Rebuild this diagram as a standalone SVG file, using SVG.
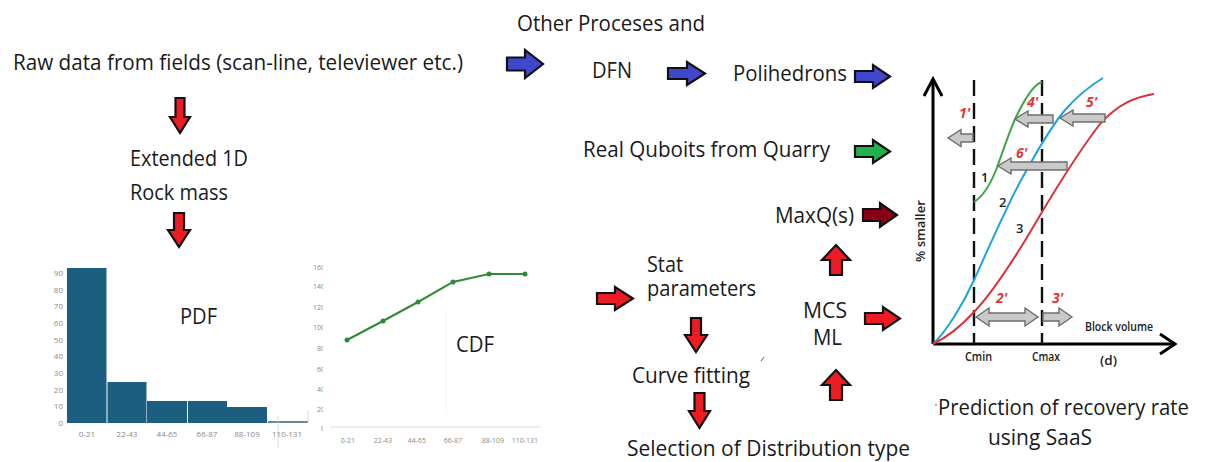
<svg xmlns="http://www.w3.org/2000/svg" width="1205" height="462" viewBox="0 0 1205 462">
  <defs>
    <style>
      .t { font-family: "Open Sans", "Noto Sans", sans-serif; font-size: 21px; fill: #1a1a1a; }
      .blk { stroke: #111; stroke-width: 2.2; stroke-linejoin: miter; }
      .red { fill: #ed1c24; }
      .blue { fill: #3f48cc; }
      .green { fill: #22b14c; }
      .dred { fill: #880015; }
      .ax { font-family: "Open Sans", "Noto Sans", sans-serif; font-size: 8px; fill: #8a8a8a; }
      .ax2 { font-family: "Open Sans", "Noto Sans", sans-serif; font-size: 7px; fill: #8a8a8a; }
      .bar { fill: #1b5e7f; }
      .gre { fill: #c9c9c9; stroke: #6d6d6d; stroke-width: 1.4; stroke-linejoin: miter; }
      .lab { font-family: "Open Sans", "Noto Sans", sans-serif; font-weight: 600; font-size: 13px; fill: #222; }
      .prm { font-family: "Open Sans", "Noto Sans", sans-serif; font-weight: 700; font-style: italic; font-size: 14px; fill: #e0353b; }
      .dash { stroke: #111; stroke-width: 2.4; stroke-dasharray: 16 7; fill: none; }
    </style>
    <clipPath id="cdfLabelClip">
      <rect x="300" y="255" width="23" height="185"/>
    </clipPath>
  </defs>

  <rect width="1205" height="462" fill="#ffffff"/>

  <!-- text nodes -->
  <g id="raw-data"><text class="t" x="13" y="70" textLength="450" lengthAdjust="spacingAndGlyphs">Raw data from fields (scan-line, televiewer etc.)</text></g>
  <g id="extended-1d">
    <text class="t" x="130" y="166" textLength="118" lengthAdjust="spacingAndGlyphs">Extended 1D</text>
    <text class="t" x="130" y="200" textLength="98" lengthAdjust="spacingAndGlyphs">Rock mass</text>
  </g>
  <g id="other-processes"><text class="t" x="517" y="31" textLength="188" lengthAdjust="spacingAndGlyphs">Other Proceses and</text></g>
  <g id="dfn"><text class="t" x="592" y="78" textLength="40" lengthAdjust="spacingAndGlyphs">DFN</text></g>
  <g id="polihedrons"><text class="t" x="733" y="81" textLength="114" lengthAdjust="spacingAndGlyphs">Polihedrons</text></g>
  <g id="real-quboits"><text class="t" x="583" y="157" textLength="247" lengthAdjust="spacingAndGlyphs">Real Quboits from Quarry</text></g>
  <g id="maxq"><text class="t" x="775" y="223" textLength="79" lengthAdjust="spacingAndGlyphs">MaxQ(s)</text></g>
  <g id="stat-parameters">
    <text class="t" x="647" y="272" textLength="36" lengthAdjust="spacingAndGlyphs">Stat</text>
    <text class="t" x="647" y="296" textLength="109" lengthAdjust="spacingAndGlyphs">parameters</text>
  </g>
  <g id="mcs-ml">
    <text class="t" x="803" y="318" textLength="44" lengthAdjust="spacingAndGlyphs">MCS</text>
    <text class="t" x="813" y="345" textLength="29" lengthAdjust="spacingAndGlyphs">ML</text>
  </g>
  <g id="curve-fitting">
    <text class="t" x="632" y="383" textLength="118" lengthAdjust="spacingAndGlyphs">Curve fitting</text>
    <path d="M761,361 L764,357" stroke="#555" stroke-width="1"/>
  </g>
  <g id="selection"><text class="t" x="627" y="456" textLength="283" lengthAdjust="spacingAndGlyphs">Selection of Distribution type</text></g>
  <g id="prediction">
    <circle cx="936" cy="405" r="0.9" fill="#888"/>
    <text class="t" x="938" y="415" textLength="251" lengthAdjust="spacingAndGlyphs">Prediction of recovery rate</text>
    <text class="t" x="988" y="445" textLength="104" lengthAdjust="spacingAndGlyphs">using SaaS</text>
  </g>

  <!-- PDF histogram -->
  <g id="pdf-chart">
    <g class="ax" text-anchor="end">
      <text x="63" y="426">0</text>
      <text x="63" y="409">10</text>
      <text x="63" y="393">20</text>
      <text x="63" y="376">30</text>
      <text x="63" y="359">40</text>
      <text x="63" y="343">50</text>
      <text x="63" y="326">60</text>
      <text x="63" y="309">70</text>
      <text x="63" y="293">80</text>
      <text x="63" y="276">90</text>
    </g>
    <rect class="bar" x="67" y="268" width="39.5" height="155"/>
    <rect class="bar" x="107.5" y="382" width="39" height="41"/>
    <rect class="bar" x="147" y="401" width="40" height="22"/>
    <rect class="bar" x="188" y="401" width="39" height="22"/>
    <rect class="bar" x="227" y="407" width="40" height="16"/>
    <rect x="268" y="421" width="40" height="2" fill="#5f8aa3"/>
    <line x1="308" y1="410" x2="308" y2="423" stroke="#cfcfcf" stroke-width="0.8"/>
    <line x1="278" y1="416" x2="278" y2="448" stroke="#cfcfcf" stroke-width="0.8"/>
    <g class="ax" text-anchor="middle">
      <text x="87" y="437">0-21</text>
      <text x="127" y="437">22-43</text>
      <text x="167" y="437">44-65</text>
      <text x="207" y="437">66-87</text>
      <text x="247" y="437">88-109</text>
      <text x="287" y="437">110-131</text>
    </g>
    <text class="t" x="180" y="324" textLength="37" lengthAdjust="spacingAndGlyphs">PDF</text>
  </g>

  <!-- CDF line chart -->
  <g id="cdf-chart">
    <g class="ax2" text-anchor="end" clip-path="url(#cdfLabelClip)">
      <text x="325" y="270">160</text>
      <text x="325" y="289">140</text>
      <text x="325" y="310">120</text>
      <text x="325" y="330">100</text>
      <text x="325" y="351">80</text>
      <text x="325" y="372">60</text>
      <text x="325" y="392">40</text>
      <text x="325" y="412">20</text>
      <text x="325" y="431">0</text>
    </g>
    <line x1="330" y1="427" x2="540" y2="427" stroke="#dcdcdc" stroke-width="1"/>
    <line x1="446" y1="310" x2="446" y2="413" stroke="#f3f3f3" stroke-width="1"/>
    <polyline points="347,340 383,321 418,302 453,282 489,274 525,274" fill="none" stroke="#2f8a36" stroke-width="2"/>
    <g fill="#2f8a36">
      <circle cx="347" cy="340" r="2.5"/>
      <circle cx="383" cy="321" r="2.5"/>
      <circle cx="418" cy="302" r="2.5"/>
      <circle cx="453" cy="282" r="2.5"/>
      <circle cx="489" cy="274" r="2.5"/>
      <circle cx="525" cy="274" r="2.5"/>
    </g>
    <g class="ax2" text-anchor="middle">
      <text x="348" y="443">0-21</text>
      <text x="383" y="443">22-43</text>
      <text x="417" y="443">44-65</text>
      <text x="453" y="443">66-87</text>
      <text x="493" y="443">88-109</text>
      <text x="525" y="443">110-131</text>
    </g>
    <text class="t" x="456" y="352" textLength="38" lengthAdjust="spacingAndGlyphs">CDF</text>
  </g>

  <!-- block-volume prediction chart -->
  <g id="recovery-chart">
    <!-- axes -->
    <path d="M933,344 V79" stroke="#000" stroke-width="3" fill="none"/>
    <path d="M924,96 L933,79 L942,96" stroke="#000" stroke-width="3" fill="none" stroke-linejoin="miter"/>
    <path d="M933,344 H1174" stroke="#000" stroke-width="3" fill="none"/>
    <path d="M1160,334 L1175,344 L1160,354" stroke="#000" stroke-width="3" fill="none"/>
    <!-- Cmin / Cmax limits -->
    <line class="dash" x1="974" y1="80" x2="974" y2="344"/>
    <line class="dash" x1="1042" y1="80" x2="1042" y2="344"/>
    <!-- gradation curves -->
    <path d="M974,202 C982,197 990,185 996,170 C1003,152 1010,128 1018,113 C1026,97 1034,84 1042,82" fill="none" stroke="#3aa64a" stroke-width="2"/>
    <path d="M933,344 C945,333 963,305 974,280 C990,245 1005,210 1020,182 C1035,155 1050,128 1065,110 C1080,93 1093,84 1103,78" fill="none" stroke="#1fa3dd" stroke-width="2"/>
    <path d="M933,344 C948,337 962,325 974,312 C995,290 1020,250 1042,212 C1060,182 1080,150 1100,124 C1118,104 1135,97 1154,94" fill="none" stroke="#d9303a" stroke-width="2"/>
    <!-- shift arrows -->
    <path class="gre" d="M973,134 H961 V129.5 L948,138 L961,146.5 V142 H973 Z"/>
    <path class="gre" d="M1053,115 H1028 V111 L1015,119 L1028,127 V123 H1053 Z"/>
    <path class="gre" d="M1105,114 H1073 V110 L1060,118 L1073,126 V122 H1105 Z"/>
    <path class="gre" d="M1067,162 H1011 V158 L998,166 L1011,174 V170 H1067 Z"/>
    <path class="gre" d="M976,317 L989,308 V313 H1025 V308 L1038,317 L1025,326 V321 H989 V326 Z"/>
    <path class="gre" d="M1043,313 H1059 V308 L1072,317 L1059,326 V321 H1043 Z"/>
    <!-- labels -->
    <text class="prm" x="959" y="118">1'</text>
    <text class="prm" x="1027" y="107">4'</text>
    <text class="prm" x="1086" y="107">5'</text>
    <text class="prm" x="1016" y="158">6'</text>
    <text class="prm" x="996" y="303">2'</text>
    <text class="prm" x="1052" y="303">3'</text>
    <text class="lab" x="981" y="182">1</text>
    <text class="lab" x="999" y="207">2</text>
    <text class="lab" x="1016" y="233">3</text>
    <text class="lab" x="965" y="361" textLength="27" lengthAdjust="spacingAndGlyphs">Cmin</text>
    <text class="lab" x="1032" y="361" textLength="28" lengthAdjust="spacingAndGlyphs">Cmax</text>
    <text class="lab" x="1100" y="365" font-size="14" textLength="17" lengthAdjust="spacingAndGlyphs">(d)</text>
    <text class="lab" x="1085" y="331" textLength="68" lengthAdjust="spacingAndGlyphs">Block volume</text>
    <text class="lab" transform="translate(925,262) rotate(-90)" font-size="12" textLength="62" lengthAdjust="spacingAndGlyphs">% smaller</text>
  </g>

  <!-- connectors -->
  <g id="connectors" class="blk">
    <path class="red" d="M175.5,98 H184.5 V117 H190 L180,133 L170,117 H175.5 Z"/>
    <path class="red" d="M174,213 H184 V230 H190 L179,247 L168,230 H174 Z"/>
    <path class="blue" d="M507,57.5 H525 V50 L543,64 L525,78 V70.5 H507 Z"/>
    <path class="blue" d="M668,68 H687 V62 L705,73.5 L687,85 V79 H668 Z"/>
    <path class="blue" d="M855,71 H873 V65 L890,76.5 L873,88 V82 H855 Z"/>
    <path class="green" d="M855,146 H873 V140 L890,151.5 L873,163 V157 H855 Z"/>
    <path class="dred" d="M863,209 H880 V203 L897,215 L880,227 V221 H863 Z"/>
    <path class="red" d="M597,293 H615 V287 L633,298.5 L615,310 V304 H597 Z"/>
    <path class="red" d="M865,313 H883 V307 L900,318.5 L883,330 V324 H865 Z"/>
    <path class="red" d="M691,318 H701 V335 H707 L696,352 L685,335 H691 Z"/>
    <path class="red" d="M694.5,393 H704.5 V411 H710 L699.5,428 L689,411 H694.5 Z"/>
    <path class="red" d="M836,245 L850,260 H842 V275 H830 V260 H822 Z"/>
    <path class="red" d="M836,370 L850,385 H842 V400 H830 V385 H822 Z"/>
  </g>
</svg>
